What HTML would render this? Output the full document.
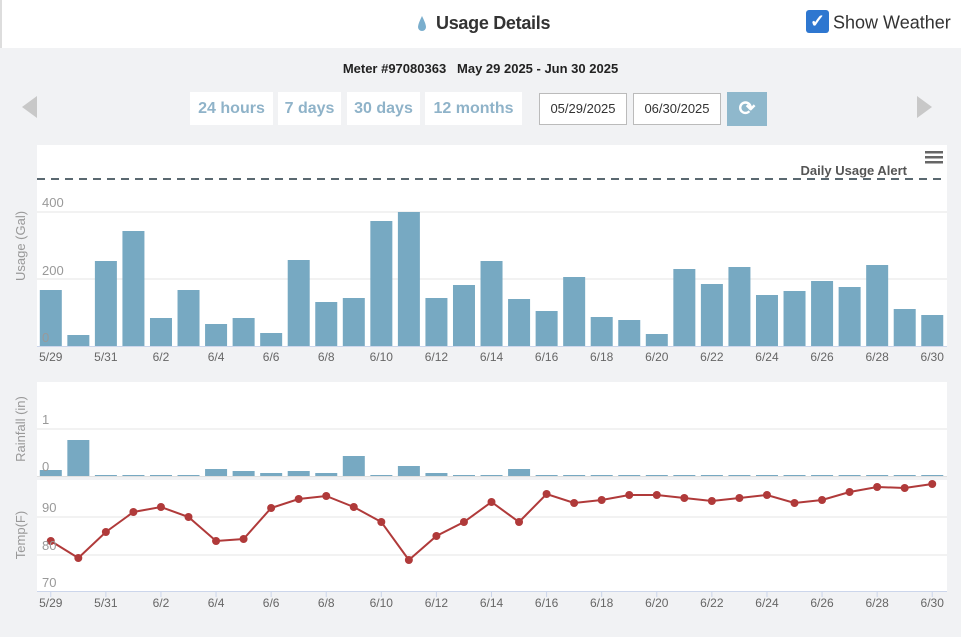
<!DOCTYPE html>
<html><head><meta charset="utf-8">
<style>
body{margin:0;width:961px;height:637px;background:#f1f2f4;font-family:"Liberation Sans",sans-serif;position:relative;overflow:hidden}
.top{position:absolute;left:0;top:0;width:961px;height:48px;background:#fff;border-left:2px solid #ddd;box-sizing:border-box}
.title{position:absolute;left:436px;top:13px;font-size:18px;font-weight:bold;color:#333;letter-spacing:-0.3px}
.sw{position:absolute;left:806px;top:12px;font-size:18px;color:#333}
.cb{display:inline-block;width:23px;height:23px;background:#2e77d0;border-radius:3px;vertical-align:middle;color:#fff;text-align:center;line-height:23px;font-weight:bold;margin-right:4px;position:relative;top:-2px}
.meter{position:absolute;left:0;width:961px;top:61px;text-align:center;font-size:13px;font-weight:bold;color:#222}
.btn{position:absolute;top:92px;height:33px;background:#fff;color:#8fb3c9;font-weight:bold;font-size:16px;line-height:33px;text-align:center}
.inp{position:absolute;top:93px;height:32px;width:88px;background:#fff;border:1px solid #bbb;box-sizing:border-box;font-size:13px;color:#333;line-height:30px;text-align:center}
</style></head><body>
<div class="top"></div>
<div class="title">Usage Details</div>
<div class="sw"><span class="cb">✓</span>Show Weather</div>
<div class="meter">Meter #97080363 &nbsp;&nbsp;May 29 2025 - Jun 30 2025</div>
<svg style="position:absolute;left:0;top:0" width="961" height="637">
<path d="M422,16 Q418,24 418,27 A4,4 0 0 0 426,27 Q426,24 422,16Z" fill="#7aaecd"/>
<polygon points="37,96 22,107 37,118" fill="#c8c8c8"/>
<polygon points="917,96 932,107 917,118" fill="#c8c8c8"/>
</svg>
<div class="btn" style="left:190px;width:83px">24 hours</div>
<div class="btn" style="left:278px;width:63px">7 days</div>
<div class="btn" style="left:347px;width:73px">30 days</div>
<div class="btn" style="left:425px;width:97px">12 months</div>
<div class="inp" style="left:539px">05/29/2025</div>
<div class="inp" style="left:633px">06/30/2025</div>
<div class="btn" style="left:727px;width:40px;top:92px;height:34px;background:#8fb8cc;color:#fff;font-size:20px;line-height:34px">⟳</div>
<svg id="c" style="position:absolute;left:0;top:0" width="961" height="637"></svg>
<script>
var u=[290,335,261,231,318,290,324,318,333,260,302,298,221,212,298,285,261,299,311,277,317,320,334,269,284,267,295,291,281,287,265,309,315];
var r=[470,440,475,475,475,475,469,471,473,471,473,456,475,466,473,475,475,469,475,475,475,475,475,475,475,475,475,475,475,475,475,475,475];
var t=[541,558,532,512,507,517,541,539,508,499,496,507,522,560,536,522,502,522,494,503,500,495,495,498,501,498,495,503,500,492,487,488,484];
var labels=["5/29","5/31","6/2","6/4","6/6","6/8","6/10","6/12","6/14","6/16","6/18","6/20","6/22","6/24","6/26","6/28","6/30"];
var cw=909/33,s='';
s+='<rect x="37" y="145" width="910" height="202" fill="#fff"/>';
s+='<rect x="37" y="382" width="910" height="95" fill="#fff"/>';
s+='<rect x="37" y="480" width="910" height="112" fill="#fff"/>';
[212,279].forEach(function(y){s+='<line x1="37" x2="947" y1="'+y+'" y2="'+y+'" stroke="#e4e4e4"/>'});
s+='<line x1="37" x2="947" y1="429" y2="429" stroke="#e4e4e4"/>';
[517,555].forEach(function(y){s+='<line x1="37" x2="947" y1="'+y+'" y2="'+y+'" stroke="#e4e4e4"/>'});
s+='<line x1="37" x2="947" y1="346.5" y2="346.5" stroke="#ccd6eb"/>';
s+='<line x1="37" x2="947" y1="476.5" y2="476.5" stroke="#e0e0e0"/>';
s+='<line x1="37" x2="947" y1="591.5" y2="591.5" stroke="#ccd6eb"/>';
for(var i=0;i<33;i++){var x=37+cw*i+2.8;
s+='<rect x="'+x+'" y="'+u[i]+'" width="22" height="'+(346-u[i])+'" fill="#77a9c2"/>';
s+='<rect x="'+x+'" y="'+r[i]+'" width="22" height="'+(476-r[i])+'" fill="#77a9c2"/>';}
var pts=t.map(function(y,i){return (37+cw*(i+.5))+','+y}).join(' ');
s+='<polyline points="'+pts+'" fill="none" stroke="#b03a3a" stroke-width="2"/>';
t.forEach(function(y,i){s+='<circle cx="'+(37+cw*(i+.5))+'" cy="'+y+'" r="4" fill="#b03a3a"/>'});
s+='<line x1="37" x2="942" y1="179" y2="179" stroke="#5a6870" stroke-width="2" stroke-dasharray="8,6"/>';
s+='<text x="907" y="175" text-anchor="end" font-size="13" font-weight="bold" fill="#555">Daily Usage Alert</text>';
[152,157,162].forEach(function(y){s+='<rect x="925" y="'+(y-1)+'" width="18" height="2.5" fill="#666"/>'});
var tl='font-size="13" fill="#999"';
s+='<text x="42" y="207" '+tl+'>400</text><text x="42" y="275" '+tl+'>200</text><text x="42" y="342" '+tl+'>0</text>';
s+='<text x="42" y="424" '+tl+'>1</text><text x="42" y="471" '+tl+'>0</text>';
s+='<text x="42" y="512" '+tl+'>90</text><text x="42" y="550" '+tl+'>80</text><text x="42" y="587" '+tl+'>70</text>';
s+='<text transform="translate(25,246) rotate(-90)" text-anchor="middle" font-size="13" fill="#999">Usage (Gal)</text>';
s+='<text transform="translate(25,429) rotate(-90)" text-anchor="middle" font-size="13" fill="#999">Rainfall (in)</text>';
s+='<text transform="translate(25,535) rotate(-90)" text-anchor="middle" font-size="13" fill="#999">Temp(F)</text>';
labels.forEach(function(l,k){var cx=37+cw*(2*k+.5);
s+='<text x="'+cx+'" y="361" text-anchor="middle" font-size="12" fill="#666">'+l+'</text>';
s+='<text x="'+cx+'" y="607" text-anchor="middle" font-size="12" fill="#666">'+l+'</text>';
s+='<line x1="'+cx+'" x2="'+cx+'" y1="592" y2="597" stroke="#ccd6eb"/>';});
document.getElementById('c').innerHTML=s;
</script>
</body></html>
